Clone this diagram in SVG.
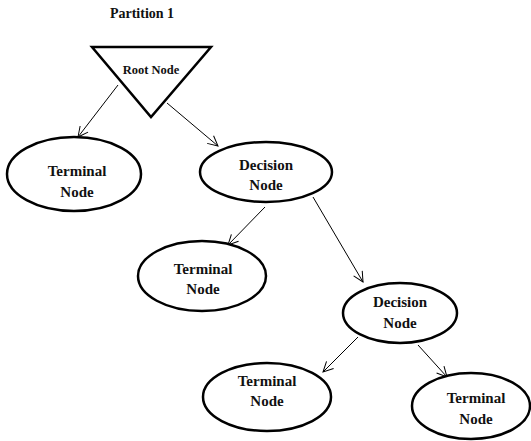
<svg xmlns="http://www.w3.org/2000/svg" width="531" height="441" viewBox="0 0 531 441">
<defs>
<marker id="arr" markerWidth="12" markerHeight="12" refX="11" refY="6" orient="auto" markerUnits="userSpaceOnUse">
<path d="M1,1 L11,6 L1,11" fill="none" stroke="#000" stroke-width="1"/>
</marker>
<style>
.shape{fill:#fff;stroke:#000;stroke-width:2.5}
.lbl{font-family:"Liberation Serif","Times New Roman",serif;font-weight:bold;font-size:15px;text-anchor:middle;fill:#111}
.edge{stroke:#000;stroke-width:1;fill:none;marker-end:url(#arr)}
</style>
</defs>
<rect width="531" height="441" fill="#fff"/>
<text class="lbl" x="142" y="18" style="font-size:14px">Partition 1</text>
<g id="connectors">
<line class="edge" x1="118" y1="85" x2="78" y2="137"/>
<line class="edge" x1="167" y1="103" x2="218" y2="146"/>
<line class="edge" x1="265" y1="207" x2="228" y2="245"/>
<line class="edge" x1="313" y1="197" x2="363" y2="282"/>
<line class="edge" x1="358" y1="337" x2="323" y2="372"/>
<line class="edge" x1="418" y1="345" x2="447" y2="377"/>
</g>
<g id="root">
<polygon class="shape" points="92,47 211,47 151,117"/>
<text class="lbl" x="151" y="74" style="font-size:12.5px">Root Node</text>
</g>
<g id="terminal1">
<ellipse class="shape" cx="74" cy="174" rx="67" ry="37"/>
<text class="lbl" x="77" y="176">Terminal</text>
<text class="lbl" x="77" y="197">Node</text>
</g>
<g id="decision1">
<ellipse class="shape" cx="266" cy="172" rx="66" ry="30"/>
<text class="lbl" x="266" y="170">Decision</text>
<text class="lbl" x="266" y="190">Node</text>
</g>
<g id="terminal2">
<ellipse class="shape" cx="202" cy="276" rx="64" ry="35"/>
<text class="lbl" x="203" y="274">Terminal</text>
<text class="lbl" x="203" y="294">Node</text>
</g>
<g id="decision2">
<ellipse class="shape" cx="400" cy="313" rx="57" ry="30"/>
<text class="lbl" x="400" y="307">Decision</text>
<text class="lbl" x="400" y="328">Node</text>
</g>
<g id="terminal3">
<ellipse class="shape" cx="267" cy="397" rx="64" ry="34"/>
<text class="lbl" x="267" y="386">Terminal</text>
<text class="lbl" x="267" y="406">Node</text>
</g>
<g id="terminal4">
<ellipse class="shape" cx="471" cy="406" rx="59" ry="33"/>
<text class="lbl" x="476" y="403">Terminal</text>
<text class="lbl" x="476" y="424">Node</text>
</g>
</svg>
